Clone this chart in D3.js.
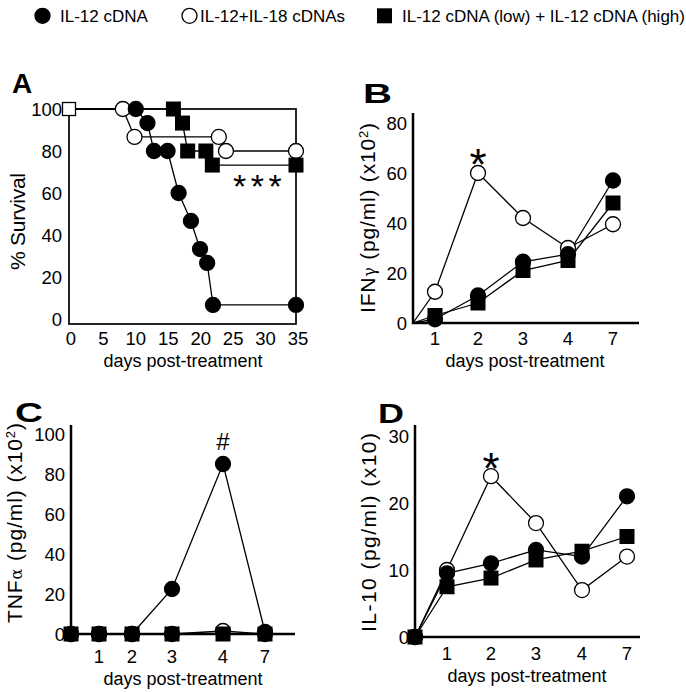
<!DOCTYPE html>
<meta charset="utf-8">
<body style="margin:0;background:#fff">
</body>
<style>
	svg text {
		font-family: "Liberation Sans", Arial, sans-serif;
		fill: #000;
	}
</style>
<script src="https://d3js.org/d3.v7.min.js" charset="utf-8"></script>
<script>

var width = 686,
	height = 692;

// Legend
const seriesNames = ['IL-12 cDNA', 'IL-12+IL-18 cDNAs', 'IL-12 cDNA (low) + IL-12 cDNA (high)'];

// Panel A: survival (days, %)
const survDaysFilled = [0, 10.3, 12.1, 13.1, 15.2, 16.9, 18.8, 20.2, 21.3, 22.2, 35];
const survFilled = [100, 100, 93.3, 80, 80, 60, 46.7, 33.3, 26.7, 6.7, 6.7];
const survDaysOpen = [0, 8.3, 10.1, 23.1, 24.2, 35];
const survOpen = [100, 100, 86.7, 86.7, 80, 80];
const survDaysSquare = [0, 16.1, 17.5, 18.3, 21.1, 22.1, 35];
const survSquare = [100, 100, 93.3, 80, 80, 73.3, 73.3];
const survXTicks = [0, 5, 10, 15, 20, 25, 30, 35];
const survYTicks = [0, 20, 40, 60, 80, 100];

// Panels B-D: cytokines by day
const days = ['0', '1', '2', '3', '4', '7'];
const dayTicks = ['1', '2', '3', '4', '7'];

const ifnFilled = [0, 1.5, 11, 24.5, 27.5, 57];
const ifnOpen = [0, 12.5, 60, 42, 30, 39.5];
const ifnSquare = [0, 3, 8, 21, 25, 48];
const ifnTicks = [0, 20, 40, 60, 80];

const tnfFilled = [0, 0, 0, 22.5, 85, 1];
const tnfOpen = [0, 0, 0, 0, 1.5, 0];
const tnfSquare = [0, 0, 0, 0, 0, 0];
const tnfTicks = [0, 20, 40, 60, 80, 100];

const il10Filled = [0, 9.5, 11, 13, 12, 21];
const il10Open = [0, 10, 24, 17, 7, 12];
const il10Square = [0, 7.5, 8.8, 11.5, 12.8, 15];
const il10Ticks = [0, 10, 20, 30];

var svg = d3.select("body").append("svg")
	.attr("width", width)
	.attr("height", height);

var R = 7.5, SQ = 15, TICK_FONT = 18.5;

/*
 * Draws one marker of the given kind at x, y.
 */
function marker(g, kind, x, y, r, s) {
	if (kind === 'square') {
		g.append("rect")
			.attr("x", x - s / 2).attr("y", y - s / 2)
			.attr("width", s).attr("height", s)
			.attr("fill", "#000");
	} else {
		g.append("circle")
			.attr("cx", x).attr("cy", y).attr("r", r)
			.attr("fill", kind === 'filled' ? "#000" : "#fff")
			.attr("stroke", "#000").attr("stroke-width", 1.3);
	}
}

/*
 * Draws series lines then markers (open, filled, square order).
 */
function drawSeries(g, series, x, y, skipFirst) {
	const line = d3.line().x(d => x(d[0])).y(d => y(d[1]));
	series.forEach(function (s) {
		g.append("path")
			.attr("d", line(s.pts))
			.attr("fill", "none")
			.attr("stroke", "#000")
			.attr("stroke-width", 1.3);
	});
	series.forEach(function (s) {
		s.pts.forEach(function (p, i) {
			if (skipFirst && i === 0) return;
			marker(g, s.kind, x(p[0]), y(p[1]), R, SQ);
		});
	});
}

// Legend
(function legend() {
	const g = svg.append("g");
	const kinds = ['filled', 'open', 'square'];
	const mx = [42.5, 189.5, 384.5];
	const tx = [60, 200, 402];
	kinds.forEach(function (k, i) {
		marker(g, k, mx[i], 15.8, 7.5, 15);
		g.append("text")
			.attr("x", tx[i]).attr("y", 21.8)
			.attr("font-size", 17)
			.text(seriesNames[i]);
	});
})();

/*
 * Rotated y-axis title, stretched to measured length.
 */
function yTitle(g, cx, cy, len, parts) {
	const t = g.append("text")
		.attr("transform", "translate(" + cx + "," + cy + ") rotate(-90)")
		.attr("text-anchor", "middle")
		.attr("font-size", 21)
		.attr("textLength", len)
		.attr("lengthAdjust", "spacing");
	parts.forEach(function (p) {
		const ts = t.append("tspan").text(p.t);
		if (p.greek) ts.attr("font-size", 16).style("font-family", "'DejaVu Serif', serif");
		if (p.sup) ts.attr("font-size", 13).attr("baseline-shift", "super");
	});
}

function panelLetter(x, y, txt, len) {
	const t = svg.append("text")
		.attr("x", x).attr("y", y)
		.attr("font-size", 28)
		.attr("font-weight", "bold")
		.text(txt);
	if (len) t.attr("textLength", len).attr("lengthAdjust", "spacingAndGlyphs");
}

function xTitle(cx, by) {
	svg.append("text")
		.attr("x", cx).attr("y", by)
		.attr("text-anchor", "middle")
		.attr("font-size", 18)
		.text("days post-treatment");
}

// Panel A
(function panelA() {
	const g = svg.append("g");
	const x = d3.scaleLinear().domain([0, 35]).range([69, 296]);
	const y = d3.scaleLinear().domain([0, 100]).range([319, 109]);

	g.append("rect")
		.attr("x", x(0)).attr("y", y(100))
		.attr("width", x(35) - x(0)).attr("height", 324 - y(100))
		.attr("fill", "none").attr("stroke", "#000").attr("stroke-width", 1.7);

	survYTicks.forEach(function (v) {
		g.append("text").attr("x", 62).attr("y", y(v) + 6.5)
			.attr("text-anchor", "end").attr("font-size", TICK_FONT).text(v);
	});
	survXTicks.forEach(function (v) {
		g.append("text").attr("x", x(v) + 2).attr("y", 345)
			.attr("text-anchor", "middle").attr("font-size", TICK_FONT).text(v);
	});

	const series = [
		{ kind: 'open', pts: d3.zip(survDaysOpen, survOpen) },
		{ kind: 'filled', pts: d3.zip(survDaysFilled, survFilled) },
		{ kind: 'square', pts: d3.zip(survDaysSquare, survSquare) }
	];
	drawSeries(g, series, x, y, true);

	// open square at start
	g.append("rect")
		.attr("x", x(0) - 6.5).attr("y", y(100) - 6.5)
		.attr("width", 13).attr("height", 13)
		.attr("fill", "#fff").attr("stroke", "#000").attr("stroke-width", 1.3);

	g.append("text").attr("x", 233).attr("y", 198)
		.attr("font-size", 34).attr("letter-spacing", 4.5).text("***");

	yTitle(g, 25, 221.5, 97, [{ t: "% Survival" }]);
	xTitle(183, 367);
	panelLetter(12, 93, "A");
})();

/*
 * Cytokine panel with L-shaped axes.
 */
function cytokinePanel(cfg) {
	const g = svg.append("g");
	const x = d3.scaleOrdinal().domain(days).range(cfg.xOff.map(d => cfg.x0 + d));
	const y = d3.scaleLinear().domain([0, cfg.yMax]).range([cfg.y0, cfg.yTop]);

	cfg.ticks.forEach(function (v) {
		g.append("text").attr("x", cfg.x0 - 6).attr("y", y(v) + 6.5)
			.attr("text-anchor", "end").attr("font-size", TICK_FONT).text(v);
	});
	dayTicks.forEach(function (d) {
		g.append("text").attr("x", x(d)).attr("y", cfg.tickY)
			.attr("text-anchor", "middle").attr("font-size", TICK_FONT).text(d);
	});

	g.append("path")
		.attr("d", "M" + cfg.x0 + "," + cfg.axisTop + "V" + cfg.y0 + "H" + cfg.axisRight)
		.attr("fill", "none").attr("stroke", "#000").attr("stroke-width", 2.5);

	const series = [
		{ kind: 'open', pts: d3.zip(days, cfg.open) },
		{ kind: 'filled', pts: d3.zip(days, cfg.filled) },
		{ kind: 'square', pts: d3.zip(days, cfg.square) }
	];
	drawSeries(g, series, x, y, !cfg.markOrigin);

	g.append("text").attr("x", x(cfg.note.day)).attr("y", cfg.note.y)
		.attr("text-anchor", "middle").attr("font-size", cfg.note.size).text(cfg.note.t);

	yTitle(g, cfg.titleX, cfg.titleY, cfg.titleLen, cfg.title);
	xTitle(cfg.x0 + 112, cfg.xTitleY);
	panelLetter(cfg.letter[0], cfg.letter[1], cfg.letter[2], cfg.letter[3]);
}

// Panel B
cytokinePanel({
	x0: 413, y0: 323, yTop: 123, yMax: 80, axisTop: 113, axisRight: 639,
	xOff: [0, 22, 65, 110, 155, 200], tickY: 345, xTitleY: 367,
	ticks: ifnTicks, filled: ifnFilled, open: ifnOpen, square: ifnSquare, markOrigin: false,
	note: { day: '2', y: 180, size: 44, t: '*' },
	titleX: 375, titleY: 218, titleLen: 190,
	title: [{ t: "IFN" }, { t: "γ", greek: true }, { t: " (pg/ml) (x10" }, { t: "2", sup: true }, { t: ")" }],
	letter: [363, 103, "B", 29]
});

// Panel C
cytokinePanel({
	x0: 71, y0: 634, yTop: 434, yMax: 100, axisTop: 425, axisRight: 295,
	xOff: [0, 28, 61, 101, 152, 194], tickY: 663, xTitleY: 685,
	ticks: tnfTicks, filled: tnfFilled, open: tnfOpen, square: tnfSquare, markOrigin: true,
	note: { day: '4', y: 450, size: 24, t: '#' },
	titleX: 21.5, titleY: 523, titleLen: 200,
	title: [{ t: "TNF" }, { t: "α", greek: true }, { t: " (pg/ml) (x10" }, { t: "2", sup: true }, { t: ")" }],
	letter: [15, 422, "C", 28]
});

// Panel D
cytokinePanel({
	x0: 415, y0: 637, yTop: 436, yMax: 30, axisTop: 425, axisRight: 640,
	xOff: [0, 32, 76, 121, 167, 212], tickY: 660, xTitleY: 682,
	ticks: il10Ticks, filled: il10Filled, open: il10Open, square: il10Square, markOrigin: true,
	note: { day: '2', y: 484, size: 44, t: '*' },
	titleX: 376, titleY: 532.5, titleLen: 199,
	title: [{ t: "IL-10 (pg/ml) (x10)" }],
	letter: [378, 423, "D", 26]
});
</script>
